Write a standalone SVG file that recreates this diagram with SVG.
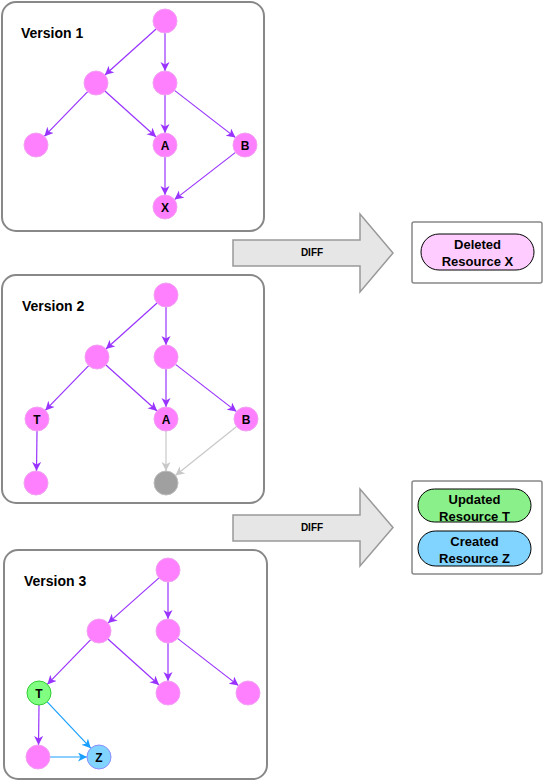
<svg xmlns="http://www.w3.org/2000/svg" width="544" height="781" viewBox="0 0 544 781">
<style>
.panel{fill:#fff;stroke:#888;stroke-width:2}
.title{font-family:"Liberation Sans",Arial,sans-serif;font-weight:bold;font-size:14px;fill:#000}
.n{fill:#FF80FF;stroke:#F2A0F2;stroke-width:1}
.g{fill:#A0A0A0;stroke:#BDBDBD;stroke-width:1}
.t{fill:#80FF80;stroke:#33CC33;stroke-width:1}
.z{fill:#80D4FF;stroke:#8C8CFF;stroke-width:1}
.lbl{font-family:"Liberation Sans",Arial,sans-serif;font-weight:bold;font-size:12px;fill:#000;text-anchor:middle}
.e{stroke:#9933FF;stroke-width:1.2;fill:none;marker-end:url(#ap)}
.eg{stroke:#C8C8C8;stroke-width:1.2;fill:none;marker-end:url(#ag)}
.eb{stroke:#1A9FFF;stroke-width:1.2;fill:none;marker-end:url(#ab)}
.big{fill:#E6E6E6;stroke:#999;stroke-width:1.5}
.diff{font-family:"Liberation Sans",Arial,sans-serif;font-weight:bold;font-size:10px;fill:#000;text-anchor:middle}
.box{fill:#fff;stroke:#888;stroke-width:1.5}
.pill{stroke:#000;stroke-width:1}
.ptxt{font-family:"Liberation Sans",Arial,sans-serif;font-weight:bold;font-size:13px;fill:#000;text-anchor:middle}
</style>
<defs>
<marker id="ap" markerUnits="userSpaceOnUse" markerWidth="10" markerHeight="10" refX="9" refY="4.5" orient="auto"><path d="M0,0 L9,4.5 L0,9 L2.5,4.5 z" fill="#9933FF"/></marker>
<marker id="ag" markerUnits="userSpaceOnUse" markerWidth="10" markerHeight="10" refX="9" refY="4.5" orient="auto"><path d="M0,0 L9,4.5 L0,9 L2.5,4.5 z" fill="#C8C8C8"/></marker>
<marker id="ab" markerUnits="userSpaceOnUse" markerWidth="10" markerHeight="10" refX="9" refY="4.5" orient="auto"><path d="M0,0 L9,4.5 L0,9 L2.5,4.5 z" fill="#1A9FFF"/></marker>
</defs>

<g id="panel1">
<rect class="panel" x="2" y="2" width="262" height="229" rx="14"/>
<text class="title" x="21" y="38">Version 1</text>
</g>
<g id="panel2">
<rect class="panel" x="2" y="275" width="262" height="228" rx="14"/>
<text class="title" x="22" y="311">Version 2</text>
</g>
<g id="panel3">
<rect class="panel" x="4" y="550" width="263" height="229" rx="14"/>
<text class="title" x="24" y="586">Version 3</text>
</g>

<g id="connectors">
<line class="e" x1="156.1" y1="29" x2="104.9" y2="75"/>
<line class="e" x1="165" y1="33" x2="165" y2="71"/>
<line class="e" x1="87.7" y1="91.6" x2="44.3" y2="136.4"/>
<line class="e" x1="104.9" y1="91" x2="156.1" y2="137"/>
<line class="e" x1="165" y1="95" x2="165" y2="133"/>
<line class="e" x1="174.5" y1="90.4" x2="235.5" y2="137.6"/>
<line class="e" x1="165" y1="157" x2="165" y2="195"/>
<line class="e" x1="235.5" y1="152.4" x2="174.5" y2="199.6"/>
<line class="e" x1="157.1" y1="303" x2="105.9" y2="349"/>
<line class="e" x1="166" y1="307" x2="166" y2="345"/>
<line class="e" x1="88.7" y1="365.6" x2="45.3" y2="410.4"/>
<line class="e" x1="105.9" y1="365" x2="157.1" y2="411"/>
<line class="e" x1="166" y1="369" x2="166" y2="407"/>
<line class="e" x1="175.5" y1="364.4" x2="236.5" y2="411.6"/>
<line class="e" x1="37" y1="431" x2="36.5" y2="471"/>
<line class="eg" x1="166" y1="431" x2="166" y2="471"/>
<line class="eg" x1="236.6" y1="426.5" x2="175.4" y2="475.5"/>
<line class="e" x1="159" y1="577.9" x2="108" y2="623.1"/>
<line class="e" x1="168" y1="582" x2="168" y2="619"/>
<line class="e" x1="90.7" y1="639.6" x2="47.3" y2="684.4"/>
<line class="e" x1="107.9" y1="639" x2="159.1" y2="685"/>
<line class="e" x1="168" y1="643" x2="168" y2="681"/>
<line class="e" x1="177.5" y1="638.4" x2="238.5" y2="685.6"/>
<line class="e" x1="39" y1="705" x2="38.5" y2="745"/>
<line class="eb" x1="47.2" y1="701.8" x2="90.8" y2="748.2"/>
<line class="eb" x1="50" y1="757" x2="87" y2="757"/>
</g>

<g id="v1-n1"><circle class="n" cx="165" cy="21" r="12"/></g>
<g id="v1-n2"><circle class="n" cx="96" cy="83" r="12"/></g>
<g id="v1-n3"><circle class="n" cx="165" cy="83" r="12"/></g>
<g id="v1-n4"><circle class="n" cx="36" cy="145" r="12"/></g>
<g id="v1-A"><circle class="n" cx="165" cy="145" r="12"/><text class="lbl" x="165" y="149.5">A</text></g>
<g id="v1-B"><circle class="n" cx="245" cy="145" r="12"/><text class="lbl" x="245" y="149.5">B</text></g>
<g id="v1-X"><circle class="n" cx="165" cy="207" r="12"/><text class="lbl" x="165" y="211.5">X</text></g>

<g id="v2-n1"><circle class="n" cx="166" cy="295" r="12"/></g>
<g id="v2-n2"><circle class="n" cx="97" cy="357" r="12"/></g>
<g id="v2-n3"><circle class="n" cx="166" cy="357" r="12"/></g>
<g id="v2-T"><circle class="n" cx="37" cy="419" r="12"/><text class="lbl" x="37" y="423.5">T</text></g>
<g id="v2-A"><circle class="n" cx="166" cy="419" r="12"/><text class="lbl" x="166" y="423.5">A</text></g>
<g id="v2-B"><circle class="n" cx="246" cy="419" r="12"/><text class="lbl" x="246" y="423.5">B</text></g>
<g id="v2-n7"><circle class="n" cx="36" cy="483" r="12"/></g>
<g id="v2-X"><circle class="g" cx="166" cy="483" r="12"/></g>

<g id="v3-n1"><circle class="n" cx="168" cy="570" r="12"/></g>
<g id="v3-n2"><circle class="n" cx="99" cy="631" r="12"/></g>
<g id="v3-n3"><circle class="n" cx="168" cy="631" r="12"/></g>
<g id="v3-T"><circle class="t" cx="39" cy="693" r="12"/><text class="lbl" x="39" y="697.5">T</text></g>
<g id="v3-A"><circle class="n" cx="168" cy="693" r="12"/></g>
<g id="v3-B"><circle class="n" cx="248" cy="693" r="12"/></g>
<g id="v3-n7"><circle class="n" cx="38" cy="757" r="12"/></g>
<g id="v3-Z"><circle class="z" cx="99" cy="757" r="12"/><text class="lbl" x="99" y="761.5">Z</text></g>

<g id="diff1">
<path class="big" d="M233,240 L360,240 L360,214 L393,253 L360,292 L360,266 L233,266 Z"/>
<text class="diff" x="312" y="256">DIFF</text>
</g>
<g id="diff2">
<path class="big" d="M233,515 L360,515 L360,489 L393,527.5 L360,566 L360,541 L233,541 Z"/>
<text class="diff" x="312" y="531">DIFF</text>
</g>

<g id="result1">
<rect class="box" x="412" y="222" width="130" height="61" rx="2"/>
<rect class="pill" x="421" y="234" width="113" height="36" rx="18" fill="#FFCCFF"/>
<text class="ptxt" x="477.5" y="249">Deleted</text>
<text class="ptxt" x="477.5" y="266">Resource X</text>
</g>
<g id="result2">
<rect class="box" x="412" y="481" width="130" height="93" rx="2"/>
<rect class="pill" x="418" y="489" width="113" height="33" rx="16.5" fill="#8AF08A"/>
<text class="ptxt" x="474.5" y="504">Updated</text>
<text class="ptxt" x="474.5" y="521">Resource T</text>
<rect class="pill" x="418" y="531" width="113" height="35" rx="17.5" fill="#80D4FF"/>
<text class="ptxt" x="474.5" y="546">Created</text>
<text class="ptxt" x="474.5" y="563">Resource Z</text>
</g>
</svg>
